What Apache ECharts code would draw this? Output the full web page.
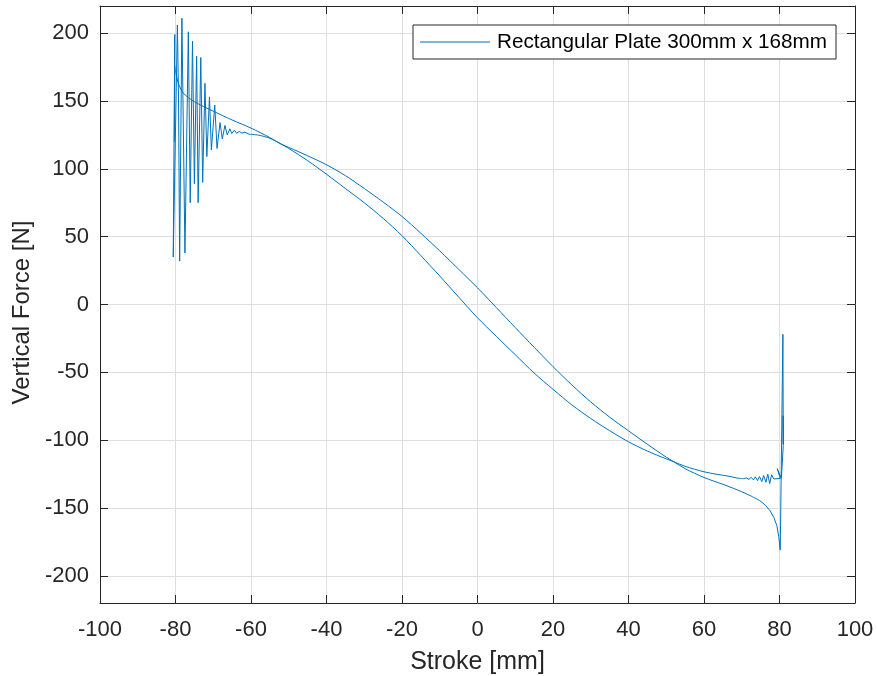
<!DOCTYPE html>
<html>
<head>
<meta charset="utf-8">
<script src="https://cdn.jsdelivr.net/npm/echarts@6/dist/echarts.min.js"></script>
<style>
html,body{margin:0;padding:0;background:#fff;}
#chart{width:877px;height:676px;}
</style>
</head>
<body>
<div id="chart"></div>
<script>
// ---- data ----
const seriesName = 'Rectangular Plate 300mm x 168mm';
const xTicks = [-100, -80, -60, -40, -20, 0, 20, 40, 60, 80, 100];
const yTicks = [-200, -150, -100, -50, 0, 50, 100, 150, 200];

// start of the push stroke: decaying oscillation near -80 mm
const oscStroke = [-80.3, -80.2, -80.6, -79.5, -79.2, -78.9, -78.3, -77.5, -76.6, -76.1, -75.5, -75.0, -74.4, -74.0, -73.3, -72.8, -72.2, -71.7, -71.0, -70.5, -69.6, -69.0, -68.2, -67.6, -66.9, -66.3, -65.6, -65.1, -64.4, -63.8, -63.1, -62.4, -61.6, -60.5];
const oscForce  = [120, 199, 35, 206, 153, 32, 211, 38, 201, 75, 194, 89, 183, 75, 182, 90, 163, 109, 153, 114, 147, 115, 134, 122, 132, 125, 129.5, 126, 128.5, 126.2, 127.6, 126.3, 127, 125.5];

// push stroke (moving to +80 mm), smooth part
const pushStroke = [-60.5, -58, -55, -52, -50, -45, -40, -35, -30, -25, -20, -15, -10, -5, 0, 5, 10, 15, 20, 25, 30, 35, 40, 45, 50, 52, 55, 60, 65, 67.8, 70, 72.5, 74.8];
const pushForce  = [125.5, 124.8, 122.5, 118.2, 115.8, 109.6, 103, 95, 85.5, 75.5, 64.9, 52.5, 39.5, 26, 12.3, -2.3, -17, -31.5, -45.8, -59.3, -71.8, -83, -93.1, -103, -112.5, -115.9, -121, -127.5, -132.5, -135.5, -138, -141.2, -144.6];

// end of push stroke: dip and reversal at +80 mm
const turnStroke = [74.8, 76.3, 77.5, 78.5, 79.3, 79.8, 80.1, 80.2, 80.9, 81.0, 80.95, 81.0, 80.5, 79.4, 80.2, 78.5, 77.9, 77.4, 76.9, 76.4, 75.8, 75.3, 74.7, 74.2, 73.6, 73.1, 72.5, 71.9, 71.2, 70.4];
const turnForce  = [-144.6, -148, -152, -157, -163, -171, -179, -181, -22, -103, -82, -104, -128, -121, -128.2, -128.6, -125.5, -132, -125, -131, -126, -130.5, -126.8, -129.8, -127, -129.3, -127.4, -128.9, -127.8, -128.4];

// return stroke (moving back to -80 mm)
const returnStroke = [70.4, 68.5, 66.9, 63.5, 60, 55, 52, 50, 45, 40, 35, 30, 25, 20, 15, 10, 5, 0, -5, -10, -15, -20, -25, -30, -35, -40, -45, -50, -52, -55, -60, -65, -70, -75, -78, -79.3, -79.9, -80.2];
const returnForce  = [-128.4, -127.8, -126.7, -125.2, -123.3, -119.3, -115.9, -113.8, -108, -101.2, -93, -84, -74, -62.5, -50.5, -37, -23.5, -9.8, 5.5, 21, 36, 50.7, 63.5, 75, 85.5, 96, 106, 115, 118.2, 123, 130, 136, 142.5, 149.5, 156, 163.5, 170.8, 176];

// ---- build ----
function zip(xs, ys) { return xs.map((x, i) => [x, ys[i]]); }

const TXT = '#262626';
const FONT = 'Liberation Sans, Arial, Helvetica, sans-serif';
const LINE = '#0072BD';

function seg(xs, ys, smooth) {
  return {
    name: seriesName, type: 'line', data: zip(xs, ys),
    xAxisIndex: 0, yAxisIndex: 0,
    symbol: 'none', showSymbol: false,
    smooth: smooth ? 0.3 : false,
    lineStyle: { color: LINE, width: 1 },
    itemStyle: { color: LINE },
    animation: false, clip: true
  };
}

const chart = echarts.init(document.getElementById('chart'), null, { renderer: 'canvas' });
const axisLine = { show: true, onZero: false, lineStyle: { color: TXT, width: 1 } };
const option = {
  backgroundColor: '#ffffff',
  animation: false,
  textStyle: { fontFamily: FONT },
  grid: { left: 100, right: 22, top: 6, bottom: 73, containLabel: false, outerBoundsMode: 'none' },
  legend: {
    data: [{ name: seriesName, icon: 'rect' }],
    left: 413, top: 25,
    padding: [6, 9, 6, 7],
    itemWidth: 70, itemHeight: 1.2,
    backgroundColor: '#ffffff',
    borderColor: TXT, borderWidth: 1, borderRadius: 0,
    itemStyle: { color: LINE, borderWidth: 0 },
    lineStyle: { width: 0 },
    textStyle: { fontFamily: FONT, fontSize: 20.7, color: '#000', lineHeight: 22, padding: [0, 0, 0, 2] },
    z: 10
  },
  xAxis: [
    {
      type: 'value', position: 'bottom', min: -100, max: 100, interval: 20,
      name: 'Stroke [mm]', nameLocation: 'middle', nameGap: 47,
      nameTextStyle: { fontFamily: FONT, fontSize: 25, color: TXT },
      axisLine: axisLine,
      axisTick: { show: true, inside: true, length: 8, lineStyle: { color: TXT } },
      axisLabel: { show: true, margin: 16, fontFamily: FONT, fontSize: 22, color: TXT },
      splitLine: { show: true, lineStyle: { color: '#dfdfdf', width: 1 } }
    },
    {
      type: 'value', position: 'top', min: -100, max: 100, interval: 20,
      axisLine: axisLine,
      axisTick: { show: true, inside: true, length: 8, lineStyle: { color: TXT } },
      axisLabel: { show: false },
      splitLine: { show: false }
    }
  ],
  yAxis: [
    {
      type: 'value', position: 'left', min: -220, max: 220,
      name: 'Vertical Force [N]', nameLocation: 'middle', nameGap: 52,
      nameTextStyle: { fontFamily: FONT, fontSize: 24, color: TXT, padding: [0, 16, 0, 0] },
      axisLine: axisLine,
      axisTick: { show: true, inside: true, length: 8, lineStyle: { color: TXT }, customValues: yTicks },
      axisLabel: { show: true, margin: 11, fontFamily: FONT, fontSize: 22, color: TXT, customValues: yTicks },
      splitLine: { show: true, lineStyle: { color: '#dfdfdf', width: 1 } }
    },
    {
      type: 'value', position: 'right', min: -220, max: 220,
      axisLine: axisLine,
      axisTick: { show: true, inside: true, length: 8, lineStyle: { color: TXT }, customValues: yTicks },
      axisLabel: { show: false, customValues: yTicks },
      splitLine: { show: false }
    }
  ],
  series: [
    seg(oscStroke, oscForce, false),
    seg(pushStroke, pushForce, true),
    seg(turnStroke, turnForce, false),
    seg(returnStroke, returnForce, true)
  ]
};
chart.setOption(option);
</script>
</body>
</html>
